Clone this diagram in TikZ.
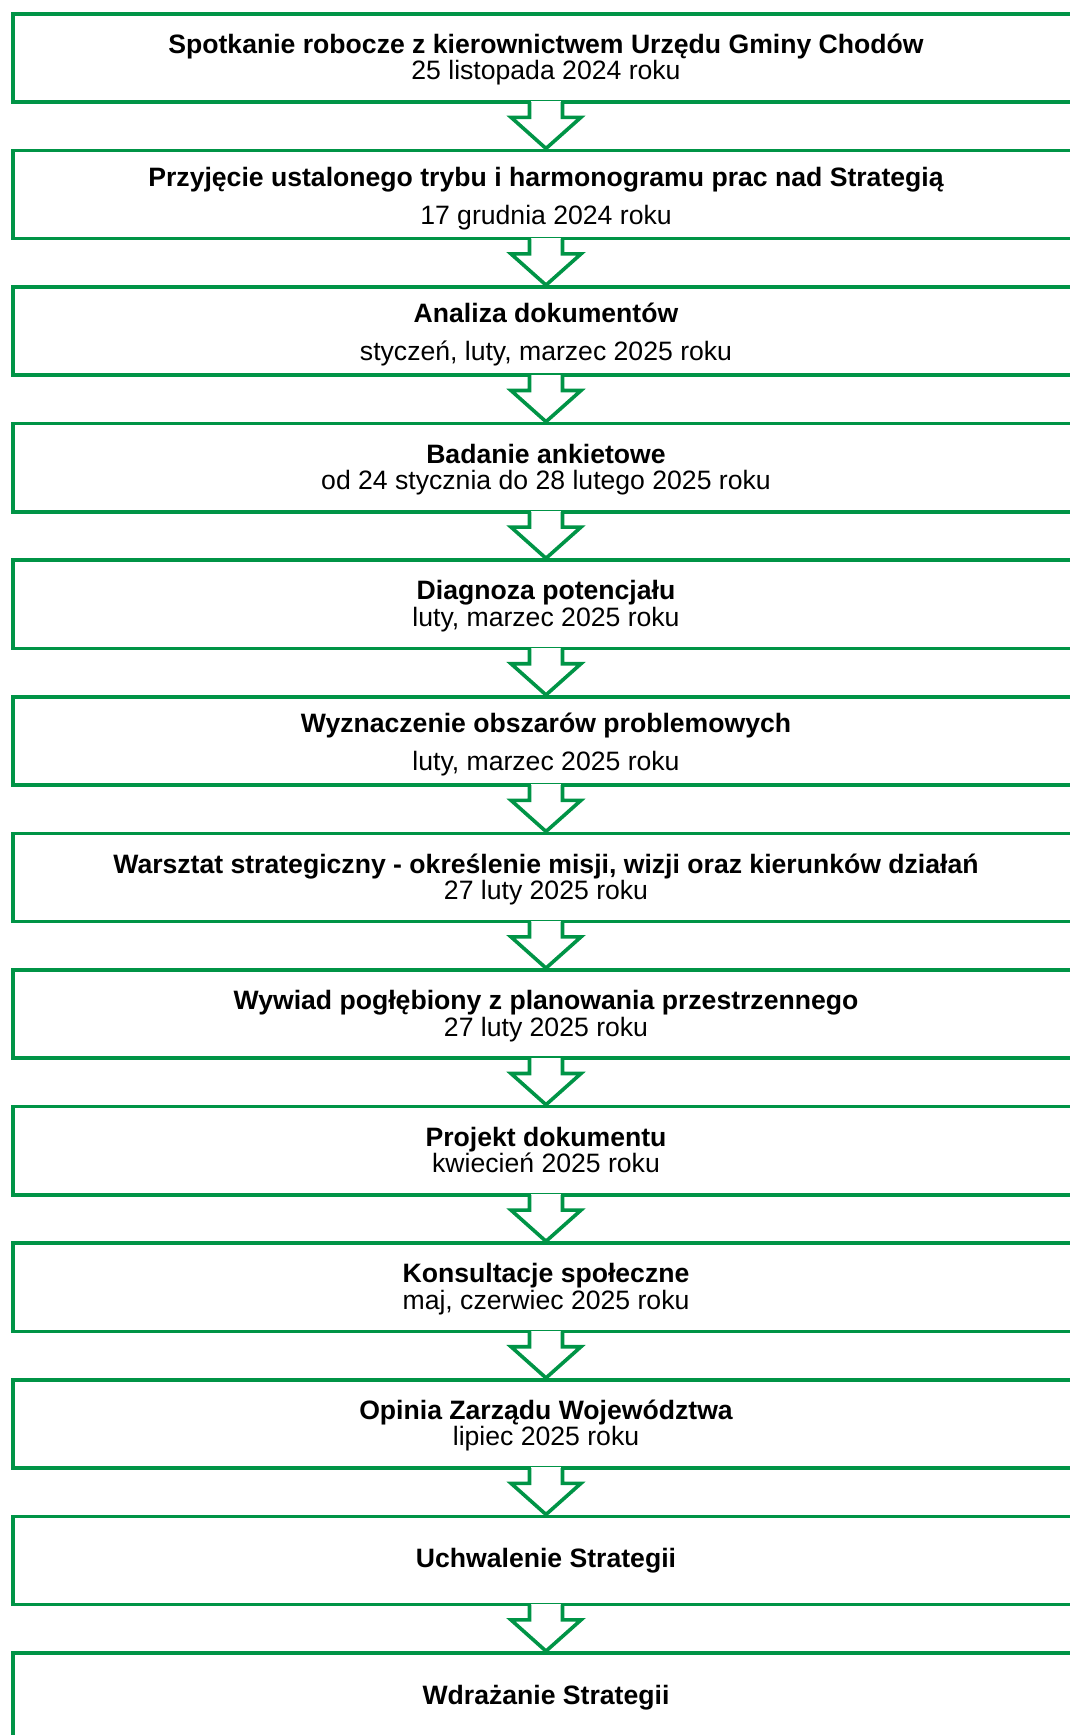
\documentclass[tikz,border=0pt]{standalone}
\usepackage{fontspec}
\setmainfont{Liberation Sans}
\usetikzlibrary{calc}
\definecolor{fgreen}{RGB}{0,148,70}
\tikzset{
  stagebox/.style={draw=fgreen, line width=3.6pt, fill=none, minimum width=1066pt, minimum height=88.3pt, inner sep=0pt},
  ttl/.style={anchor=base, inner sep=0pt, font=\fontsize{26.6}{30}\selectfont\bfseries},
  sub/.style={anchor=base, inner sep=0pt, font=\fontsize{26.6}{30}\selectfont},
  flowarrow/.style={draw=fgreen, line width=3.6pt, line join=miter}
}
\begin{document}
\begin{tikzpicture}[x=1pt, y=-1pt]
\useasboundingbox (0,0) rectangle (1070,1735);
% boxes
\node[stagebox] (b1)  at (546,57.85) {};
\node[stagebox] (b2)  at (546,194.45) {};
\node[stagebox] (b3)  at (546,331.05) {};
\node[stagebox] (b4)  at (546,467.65) {};
\node[stagebox] (b5)  at (546,604.25) {};
\node[stagebox] (b6)  at (546,740.85) {};
\node[stagebox] (b7)  at (546,877.45) {};
\node[stagebox] (b8)  at (546,1014.05) {};
\node[stagebox] (b9)  at (546,1150.65) {};
\node[stagebox] (b10) at (546,1287.25) {};
\node[stagebox] (b11) at (546,1423.85) {};
\node[stagebox] (b12) at (546,1560.45) {};
\node[stagebox] (b13) at (546,1697.05) {};
% texts
\node[ttl] (t1a) at ($(b1.north)+(0,41.5)$) {Spotkanie robocze z kierownictwem Urzędu Gminy Chodów};
\node[sub] (t1b) at ($(b1.north)+(0,68)$) {25 listopada 2024 roku};
\node[ttl] (t2a) at ($(b2.north)+(0,37.5)$) {Przyjęcie ustalonego trybu i harmonogramu prac nad Strategią};
\node[sub] (t2b) at ($(b2.north)+(0,75.5)$) {17 grudnia 2024 roku};
\node[ttl] (t3a) at ($(b3.north)+(0,37.5)$) {Analiza dokumentów};
\node[sub] (t3b) at ($(b3.north)+(0,75.5)$) {styczeń, luty, marzec 2025 roku};
\node[ttl] (t4a) at ($(b4.north)+(0,41.5)$) {Badanie ankietowe};
\node[sub] (t4b) at ($(b4.north)+(0,68)$) {od 24 stycznia do 28 lutego 2025 roku};
\node[ttl] (t5a) at ($(b5.north)+(0,41.5)$) {Diagnoza potencjału};
\node[sub] (t5b) at ($(b5.north)+(0,68)$) {luty, marzec 2025 roku};
\node[ttl] (t6a) at ($(b6.north)+(0,37.5)$) {Wyznaczenie obszarów problemowych};
\node[sub] (t6b) at ($(b6.north)+(0,75.5)$) {luty, marzec 2025 roku};
\node[ttl] (t7a) at ($(b7.north)+(0,41.5)$) {Warsztat strategiczny - określenie misji, wizji oraz kierunków działań};
\node[sub] (t7b) at ($(b7.north)+(0,68)$) {27 luty 2025 roku};
\node[ttl] (t8a) at ($(b8.north)+(0,41.5)$) {Wywiad pogłębiony z planowania przestrzennego};
\node[sub] (t8b) at ($(b8.north)+(0,68)$) {27 luty 2025 roku};
\node[ttl] (t9a) at ($(b9.north)+(0,41.5)$) {Projekt dokumentu};
\node[sub] (t9b) at ($(b9.north)+(0,68)$) {kwiecień 2025 roku};
\node[ttl] (t10a) at ($(b10.north)+(0,41.5)$) {Konsultacje społeczne};
\node[sub] (t10b) at ($(b10.north)+(0,68)$) {maj, czerwiec 2025 roku};
\node[ttl] (t11a) at ($(b11.north)+(0,41.5)$) {Opinia Zarządu Województwa};
\node[sub] (t11b) at ($(b11.north)+(0,68)$) {lipiec 2025 roku};
\node[ttl] (t12a) at ($(b12.north)+(0,53)$) {Uchwalenie Strategii};
\node[ttl] (t13a) at ($(b13.north)+(0,53)$) {Wdrażanie Strategii};
% arrows
\foreach \a/\b in {b1/b2,b2/b3,b3/b4,b4/b5,b5/b6,b6/b7,b7/b8,b8/b9,b9/b10,b10/b11,b11/b12,b12/b13}{
  \fill[white] ($(\a.south)+(-14.7,-2.5)$) rectangle ($(\a.south)+(14.7,2.5)$);
  \draw[flowarrow] ($(\a.south)+(-16.5,-1.8)$) -- ($(\a.south)+(-16.5,13.5)$)
     -- ($(\a.south)+(-35,13.5)$) -- (\b.north) -- ($(\a.south)+(35,13.5)$)
     -- ($(\a.south)+(16.5,13.5)$) -- ($(\a.south)+(16.5,-1.8)$);
}
\end{tikzpicture}
\end{document}
